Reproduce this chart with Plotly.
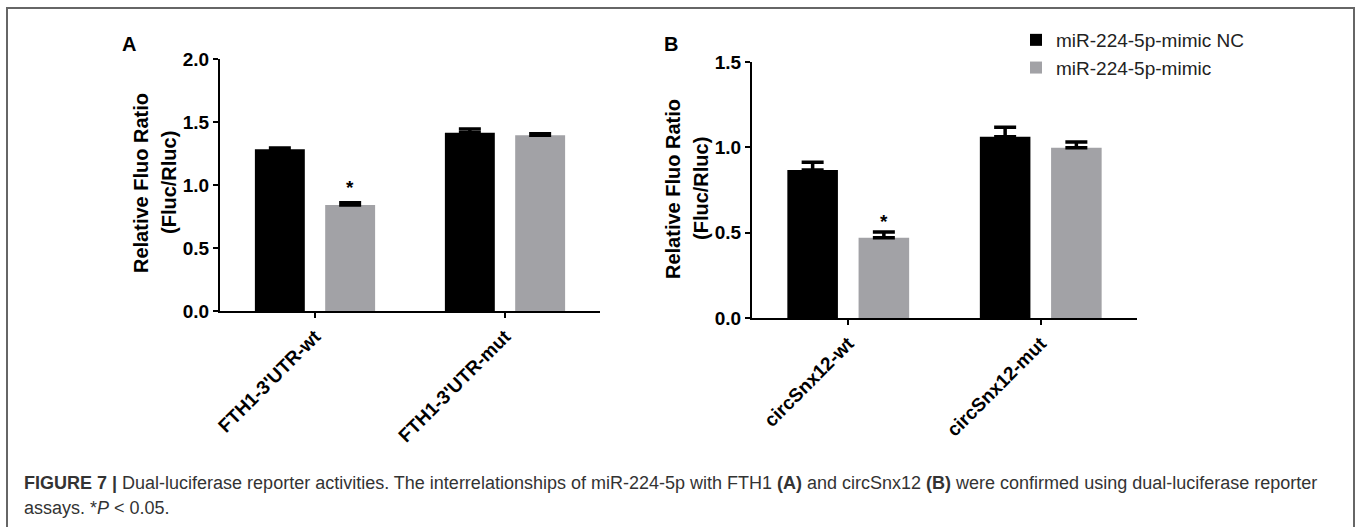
import plotly.graph_objects as go

W, H = 1361, 527

# ---------------- data ----------------
series_names = ["miR-224-5p-mimic NC", "miR-224-5p-mimic"]
series_colors = ["#000000", "#a2a2a6"]

cats_a = ["FTH1-3'UTR-wt", "FTH1-3'UTR-mut"]
nc_a = [1.283, 1.415]
nc_a_err = [0.011, 0.03]
mimic_a = [0.841, 1.395]
mimic_a_err = [0.018, 0.011]

cats_b = ["circSnx12-wt", "circSnx12-mut"]
nc_b = [0.867, 1.062]
nc_b_err = [0.045, 0.055]
mimic_b = [0.470, 0.998]
mimic_b_err = [0.034, 0.033]

yticks_a = [0.0, 0.5, 1.0, 1.5, 2.0]
yticks_b = [0.0, 0.5, 1.0, 1.5]

FONT = "Liberation Sans, Arial, Helvetica, sans-serif"


def px(x):
    return x / W


def py(y):
    return 1 - y / H


fig = go.Figure()

panels = [
    ("x", "y", cats_a, [nc_a, mimic_a], [nc_a_err, mimic_a_err], True),
    ("x2", "y2", cats_b, [nc_b, mimic_b], [nc_b_err, mimic_b_err], False),
]
for xa, ya, cats, vals, errs, show in panels:
    for i in range(2):
        fig.add_trace(go.Bar(
            x=cats, y=vals[i], name=series_names[i],
            marker=dict(color=series_colors[i], line=dict(width=0)),
            error_y=dict(type="data", array=errs[i], arrayminus=[0] * len(cats),
                         symmetric=False, color="#000000", thickness=3.5, width=11),
            xaxis=xa, yaxis=ya, showlegend=show, legendgroup=series_names[i],
        ))

axis_common = dict(showline=True, linecolor="#000000", linewidth=2,
                   ticks="outside", ticklen=5, tickwidth=2, tickcolor="#000000",
                   showgrid=False, zeroline=False, automargin=False,
                   tickfont=dict(family=FONT, size=19, color="#000000", weight="bold"))

fig.update_layout(
    width=W, height=H,
    margin=dict(l=0, r=0, t=0, b=0, autoexpand=False),
    paper_bgcolor="white", plot_bgcolor="white",
    barmode="group", bargap=0.26, bargroupgap=0.29,
    xaxis=dict(domain=[px(220), px(600)], anchor="y", type="category",
               range=[-0.5, 1.5], tickangle=-45, **axis_common),
    yaxis=dict(domain=[py(311), py(59)], anchor="x", range=[0, 2.0],
               tickvals=yticks_a, ticktext=[f"{v:.1f}" for v in yticks_a], **axis_common),
    xaxis2=dict(domain=[px(752), px(1137)], anchor="y2", type="category",
                range=[-0.5, 1.5], tickangle=-45, **axis_common),
    yaxis2=dict(domain=[py(318), py(62)], anchor="x2", range=[0, 1.5],
                tickvals=yticks_b, ticktext=[f"{v:.1f}" for v in yticks_b], **axis_common),
    legend=dict(x=px(1016), y=py(21), xanchor="left", yanchor="top",
                font=dict(family=FONT, size=19, color="#222222"),
                bgcolor="rgba(0,0,0,0)", tracegroupgap=0, itemwidth=30),
    showlegend=True,
)


def note(text, x, y, size, **kw):
    d = dict(text=text, x=x, y=y, xref="paper", yref="paper", showarrow=False,
             xanchor="center", yanchor="middle",
             font=dict(family=FONT, size=size, color=kw.pop("color", "#000")))
    d.update(kw)
    return d


ann = []
# panel letters
ann.append(note("<b>A</b>", px(129), py(44), 20))
ann.append(note("<b>B</b>", px(671), py(44), 20))
# y titles
for (x1, x2, yc) in [(141, 169, 183), (673, 701, 189)]:
    ann.append(note("<b>Relative Fluo Ratio</b>", px(x1), py(yc), 20, textangle=-90))
    ann.append(note("<b>(Fluc/Rluc)</b>", px(x2), py(yc), 20, textangle=-90))
# significance asterisks above mimic bars of the wt groups
ann.append(dict(text="<b>*</b>", x=0, xshift=35, y=mimic_a[0] + mimic_a_err[0],
                xref="x", yref="y", xanchor="center", yanchor="bottom", yshift=3,
                showarrow=False, font=dict(family=FONT, size=19, color="#000")))
ann.append(dict(text="<b>*</b>", x=0, xshift=36, y=mimic_b[0] + mimic_b_err[0],
                xref="x2", yref="y2", xanchor="center", yanchor="bottom", yshift=-2,
                showarrow=False, font=dict(family=FONT, size=19, color="#000")))
# caption
ann.append(note("<b>FIGURE 7 |</b> Dual-luciferase reporter activities. The interrelationships of "
                "miR-224-5p with FTH1 <b>(A)</b> and circSnx12 <b>(B)</b> were confirmed using "
                "dual-luciferase reporter",
                px(22), py(483), 18, xanchor="left", color="#333333"))
ann.append(note("assays. *<i>P</i> &lt; 0.05.", px(22), py(508), 18, xanchor="left",
                color="#333333"))
fig.update_layout(annotations=ann)

# outer frame (top, left, right) drawn as one open path
fig.add_shape(type="path", xref="paper", yref="paper", layer="above",
              path=f"M {px(7)} 0 L {px(7)} {py(8)} L {px(1354)} {py(8)} L {px(1354)} 0",
              line=dict(color="#666666", width=2))

fig.write_html("out.html", config={"displayModeBar": False},
               post_script="document.body.style.margin='0';document.body.style.overflow='hidden';")
